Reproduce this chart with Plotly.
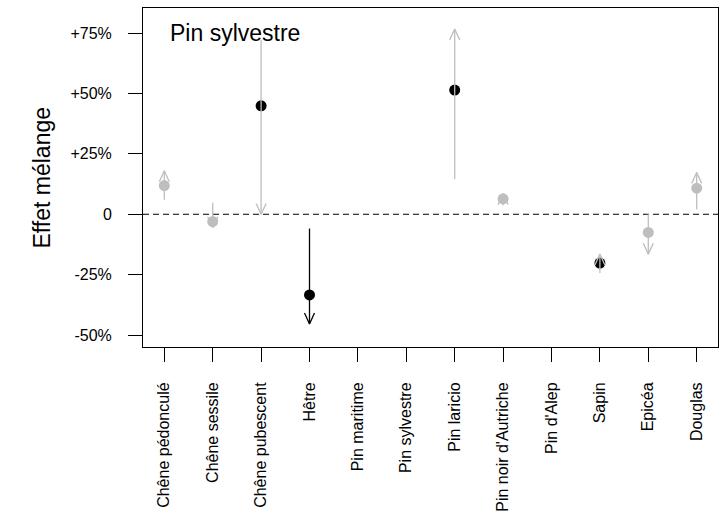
import plotly.graph_objects as go

# Species (x categories)
species = ["Chêne pédonculé", "Chêne sessile", "Chêne pubescent", "Hêtre",
           "Pin maritime", "Pin sylvestre", "Pin laricio", "Pin noir d'Autriche",
           "Pin d'Alep", "Sapin", "Epicéa", "Douglas"]

# Mixing effect (%) per species; None where no estimate exists
effect = [11.9, -3.0, 44.9, -33.4, None, None, 51.4, 6.4, None, -20.2, -7.5, 10.8]
significant = [False, False, True, True, False, False, True, False, False, True, False, False]

# Arrow start / end (%) per species
arrow_from = [6.0, 4.8, 72.3, -5.9, None, None, 14.6, 3.6, None, -24.3, 0.0, 2.0]
arrow_to = [18.0, -5.5, 0.0, -45.4, None, None, 76.7, 8.5, None, -16.5, -16.5, 17.3]
arrow_black = [False, False, False, True, False, False, False, False, False, False, False, False]

y_ticks = [-50, -25, 0, 25, 50, 75]
y_tick_text = ["-50%", "-25%", "0", "+25%", "+50%", "+75%"]

GREY = "#BEBEBE"
FONT = "Liberation Sans, Arial, sans-serif"

W, H = 728, 519
M = dict(l=143, r=10, t=7, b=169)
X_RANGE = [0.56, 12.44]
Y_RANGE = [-54.95, 85.4]

# data units per pixel, used to size the arrowheads
x_per_px = (X_RANGE[1] - X_RANGE[0]) / (W - M["l"] - M["r"])
y_per_px = (Y_RANGE[1] - Y_RANGE[0]) / (H - M["t"] - M["b"])
HEAD_LEN_PX, HEAD_HALF_W_PX = 11, 5

xs = list(range(1, len(species) + 1))

fig = go.Figure()

# zero reference line
fig.add_shape(type="line", xref="paper", x0=0, x1=1, yref="y", y0=0, y1=0,
              line=dict(color="black", width=1, dash="6px,4px"), layer="below")

# points
for sig, col in [(False, GREY), (True, "black")]:
    px = [x for x, v, s in zip(xs, effect, significant) if v is not None and s == sig]
    py = [v for v, s in zip(effect, significant) if v is not None and s == sig]
    fig.add_trace(go.Scatter(x=px, y=py, mode="markers",
                             marker=dict(size=11, color=col, line=dict(width=0)),
                             showlegend=False, hoverinfo="skip"))

# arrows (shaft + open head), drawn over the points
for x, a0, a1, blk in zip(xs, arrow_from, arrow_to, arrow_black):
    if a0 is None:
        continue
    col = "black" if blk else GREY
    sgn = 1 if a1 > a0 else -1
    dy = HEAD_LEN_PX * y_per_px * sgn
    dx = HEAD_HALF_W_PX * x_per_px
    fig.add_trace(go.Scatter(
        x=[x, x, None, x - dx, x, x + dx],
        y=[a0, a1, None, a1 - dy, a1, a1 - dy],
        mode="lines", line=dict(color=col, width=1.3),
        showlegend=False, hoverinfo="skip"))

fig.add_annotation(text="Pin sylvestre", xref="paper", x=0.043, xanchor="left",
                   yref="y", y=75, yanchor="middle", showarrow=False,
                   font=dict(family=FONT, size=23, color="black"))

fig.add_annotation(text="Effet mélange", xref="paper", x=(41 - M["l"]) / (W - M["l"] - M["r"]),
                   xanchor="center", yref="paper", y=0.5, yanchor="middle",
                   textangle=-90, showarrow=False,
                   font=dict(family=FONT, size=23, color="black"))

axis_common = dict(showgrid=False, zeroline=False, showline=True, mirror=True,
                   linecolor="black", linewidth=1, ticks="outside", ticklen=14,
                   tickwidth=1, tickcolor="black",
                   tickfont=dict(family=FONT, size=16, color="black"))

fig.update_xaxes(range=X_RANGE, tickmode="array", tickvals=xs, ticktext=species,
                 tickangle=-90, ticklabelstandoff=14, **axis_common)
fig.update_yaxes(range=Y_RANGE, tickmode="array", tickvals=y_ticks, ticktext=y_tick_text,
                 ticklabelstandoff=13, **axis_common)

fig.update_layout(width=W, height=H, margin=M, plot_bgcolor="white",
                  paper_bgcolor="white", font=dict(family=FONT))

fig.write_html("out.html")
